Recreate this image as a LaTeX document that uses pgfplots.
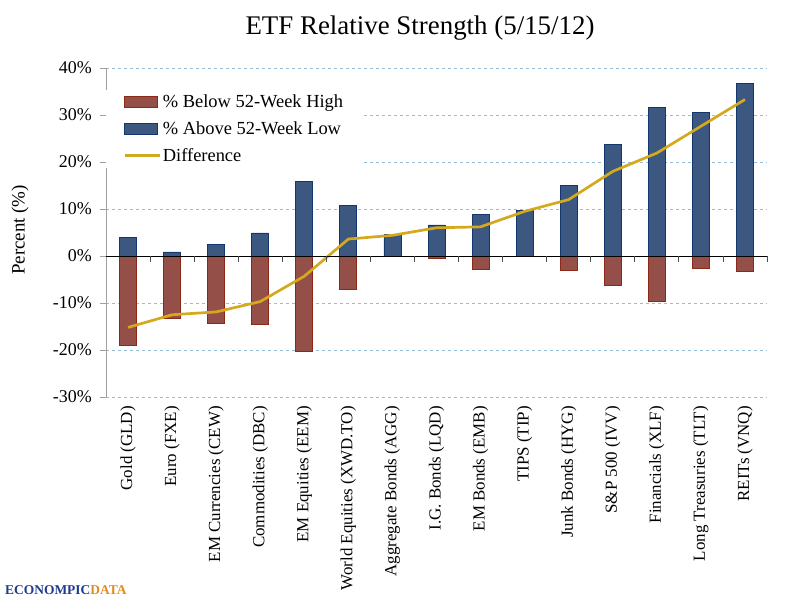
\documentclass[border=0pt]{standalone}
\usepackage{fontspec}
\setmainfont{Liberation Serif}
\usepackage{pgfplots}
\pgfplotsset{compat=1.18}
\definecolor{barred}{RGB}{148,79,72}
\definecolor{barredE}{RGB}{140,40,22}
\definecolor{barblue}{RGB}{60,87,128}
\definecolor{barblueE}{RGB}{18,55,110}
\definecolor{goldl}{RGB}{212,169,30}
\definecolor{gridc}{RGB}{150,190,215}
\definecolor{logoblue}{RGB}{30,60,140}
\definecolor{logoorange}{RGB}{225,140,30}

\pgfplotstableread{
idx blue red diff
0 3.9 -19.1 -15.2
1 0.85 -13.3 -12.5
2 2.5 -14.4 -11.9
3 4.9 -14.5 -9.7
4 15.9 -20.2 -4.3
5 10.8 -7.2 3.6
6 4.5 -0.1 4.4
7 6.6 -0.6 6.0
8 8.8 -2.8 6.2
9 9.6 -0.1 9.5
10 15.0 -3.1 12.0
11 23.8 -6.2 18.0
12 31.6 -9.7 21.9
13 30.5 -2.7 27.6
14 36.8 -3.2 33.3
}\data

\begin{document}
\begin{tikzpicture}[x=1bp,y=1bp]
\path[use as bounding box] (0,0) rectangle (800,606);
\begin{axis}[at={(106bp,209bp)}, anchor=south west, scale only axis,
  width=661bp, height=329bp,
  xmin=-0.5, xmax=14.5, ymin=-30, ymax=40,
  axis x line=bottom, axis y line=left,
  x axis line style={draw=none},
  y axis line style={draw=gray!75, -, line width=0.9bp},
  xtick={0,...,14},
  xticklabels={Gold (GLD), Euro (FXE), EM Currencies (CEW), Commodities (DBC), EM Equities (EEM), World Equities (XWD.TO), Aggregate Bonds (AGG), I.G. Bonds (LQD), EM Bonds (EMB), TIPS (TIP), Junk Bonds (HYG), S\&P 500 (IVV), Financials (XLF), Long Treasuries (TLT), REITs (VNQ)},
  x tick style={draw=none},
  xticklabel style={rotate=90, anchor=east, font=\fontsize{17}{20}\selectfont, inner sep=3bp},
  ytick={-30,-20,...,40},
  yticklabels={-30\%,-20\%,-10\%,0\%,10\%,20\%,30\%,40\%},
  y tick style={draw=gray!75, line width=0.9bp},
  yticklabel style={font=\fontsize{18}{21}\selectfont, inner sep=2bp, xshift=-6bp},
  tick align=outside, major tick length=6bp,
  ymajorgrids, grid style={gridc, dash pattern=on 3bp off 3bp, line width=0.8bp},
  clip=false,
  legend style={at={(0.0,0.935)}, anchor=north west, draw=none, fill=white,
    font=\fontsize{18.5}{21}\selectfont, row sep=8.5bp, inner xsep=17bp, inner ysep=3bp},
  legend cell align=left,
]
\addplot[ybar, bar width=17bp, bar shift=0pt, fill=barred, draw=barredE, line width=0.8bp,
  legend image code/.code={\draw[fill=barred, draw=barredE, line width=0.8bp] (0bp,-5.5bp) rectangle (33bp,5.5bp);}]
  table[x=idx,y=red]{\data};
\addlegendentry{\% Below 52-Week High}
\addplot[ybar, bar width=17bp, bar shift=0pt, fill=barblue, draw=barblueE, line width=0.8bp,
  legend image code/.code={\draw[fill=barblue, draw=barblueE, line width=0.8bp] (0bp,-5.5bp) rectangle (33bp,5.5bp);}]
  table[x=idx,y=blue]{\data};
\addlegendentry{\% Above 52-Week Low}
\addplot[sharp plot, goldl, line width=2.7bp, line join=round, no markers,
  legend image code/.code={\draw[goldl, line width=2.7bp] (0bp,0bp) -- (35bp,0bp);}]
  table[x=idx,y=diff]{\data};
\addlegendentry{Difference}
\draw[black, line width=0.9bp] (axis cs:-0.5,0) -- (axis cs:14.5,0);
\pgfplotsinvokeforeach{0.5,1.5,...,14.5}{\draw[gray!60!black, line width=0.9bp] (axis cs:#1,0) -- ++(0bp,-6bp);}
\end{axis}
\node[font=\fontsize{27}{31}\selectfont] at (420,578) {ETF Relative Strength (5/15/12)};
\node[rotate=90, font=\fontsize{19}{22}\selectfont] at (20,376) {Percent (\%)};
\node[anchor=west, inner sep=0pt, font=\fontsize{13.5}{15}\selectfont\bfseries] at (5,16) {\textcolor{logoblue}{ECONOMPIC}\textcolor{logoorange}{DATA}};
\end{tikzpicture}
\end{document}
